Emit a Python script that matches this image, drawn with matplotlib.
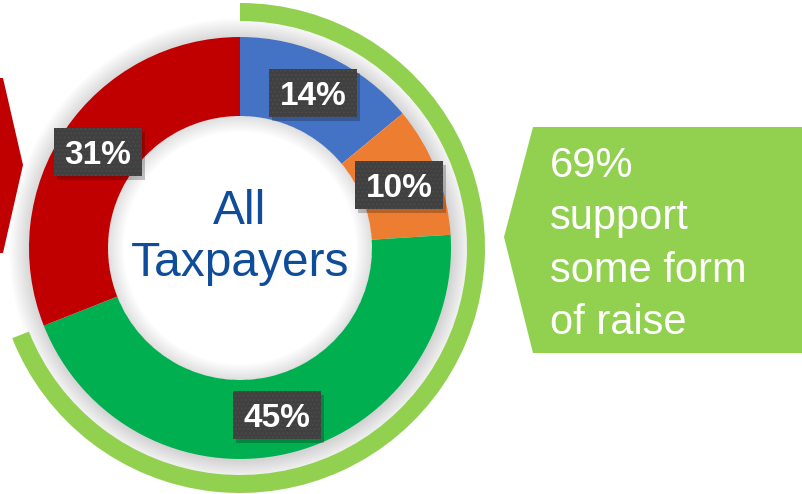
import matplotlib
matplotlib.use('Agg')
import matplotlib.pyplot as plt
from matplotlib.patches import Wedge, Polygon, Rectangle

# ---- data ----
segments = ['Segment 1', 'Segment 2', 'Segment 3', 'Segment 4']
values = [14, 10, 45, 31]
seg_colors = ['#4472C4', '#ED7D31', '#00B050', '#C00000']
support_count = 3  # first three segments make up the "support" arc
center_label = 'All\nTaxpayers'
callout_words = ['support', 'some form', 'of raise']

support = sum(values[:support_count])
callout_text = f'{support}%\n' + '\n'.join(callout_words)

W, H = 803, 494
fig = plt.figure(figsize=(W / 100, H / 100), dpi=100)
ax = fig.add_axes([0, 0, 1, 1])

def Y(y):
    return H - y

cx, cy = 240, Y(248)
R, r = 211, 132

# soft outer shadow around donut
for i in range(22):
    ax.add_patch(Wedge((cx + 1, cy - 2), R + i, 0, 360, width=i + 4,
                       fc='black', alpha=0.008, lw=0, zorder=0.5))

wedges, texts, autotexts = ax.pie(
    values, colors=seg_colors, startangle=90, counterclock=False,
    radius=R, center=(cx, cy),
    wedgeprops=dict(width=R - r, edgecolor='none', linewidth=0),
    autopct=lambda p: f'{p:.0f}%', pctdistance=(R + r) / 2 / R,
    textprops=dict(color='white', fontsize=24, fontweight='bold',
                   family=['Liberation Sans', 'DejaVu Sans']),
    frame=True)

# inner shadow of the hole
for i in range(16):
    ax.add_patch(Wedge((cx, cy), r, 0, 360, width=i + 1,
                       fc='black', alpha=0.008, lw=0, zorder=2))

# support arc
ax.add_patch(Wedge((cx, cy), 245, 90 - 360 * support / 100, 90, width=18,
                   fc='#92D050', lw=0, zorder=2))

# label boxes
for t in autotexts:
    x, y = t.get_position()
    ax.add_patch(Rectangle((x - 44 + 3, y - 24 - 4), 88, 48, fc='black',
                           alpha=0.22, lw=0, zorder=3))
    ax.add_patch(Rectangle((x - 44, y - 24), 88, 48, fc='#404040',
                           lw=0, zorder=3.1))
    ax.add_patch(Rectangle((x - 44, y - 24), 88, 48, fill=False, hatch='....',
                           ec='#4a4a4a', lw=0, zorder=3.2))
    t.set_position((x, y - 12))
    t.set_va('baseline')
    t.set_zorder(4)

# center label
ax.text(cx, Y(238), center_label, ha='center', va='center', fontsize=34.5,
        color='#0F4C9A', linespacing=1.2,
        family=['Liberation Sans', 'DejaVu Sans'], zorder=4)

# left red arrow
ax.add_patch(Polygon([(-5, Y(78)), (3, Y(78)), (23, Y(165)), (3, Y(253)),
                      (-5, Y(253))], closed=True, fc='#C00000', lw=0, zorder=2))

# right callout
ax.add_patch(Polygon([(504, Y(237)), (533, Y(127)), (W + 5, Y(127)),
                      (W + 5, Y(353)), (533, Y(353))], closed=True,
                     fc='#92D050', lw=0, zorder=2))
ax.text(550, Y(146), callout_text, ha='left', va='top', fontsize=30,
        color='white', linespacing=1.4,
        family=['Liberation Sans', 'DejaVu Sans'], zorder=4)

ax.set_xlim(0, W)
ax.set_ylim(0, H)
ax.set_aspect('auto')
ax.axis('off')

fig.savefig('out.png', dpi=100, facecolor='white')
